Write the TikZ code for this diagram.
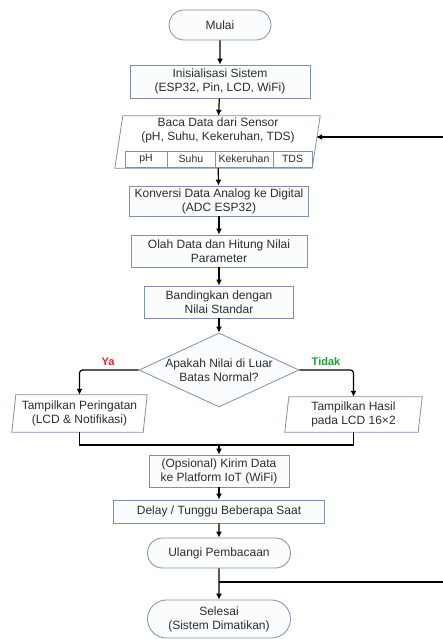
\documentclass[tikz,border=0pt]{standalone}
\usepackage{fontspec}
\setmainfont{Liberation Sans}
\usetikzlibrary{calc,shapes.geometric,shapes.misc,arrows.meta,positioning}
\definecolor{garis}{RGB}{125,145,170}
\definecolor{isi}{RGB}{251,252,254}
\definecolor{teks}{RGB}{45,45,45}
\definecolor{merah}{RGB}{215,40,40}
\definecolor{hijau}{RGB}{40,150,50}
% jajaran genjang di sekeliling node: #1 = nama node, #2 = geser
\newcommand{\jajar}[2]{%
  \draw[draw=garis,line width=0.8pt]
    ($(#1.south west)+(-#2,0)$) -- ($(#1.north west)+(#2,0)$) --
    ($(#1.north east)+(#2,0)$) -- ($(#1.south east)+(-#2,0)$) -- cycle;}

\begin{document}
\begin{tikzpicture}[x=1pt,y=-1pt,
  every node/.style={text=teks,font=\fontsize{12}{14}\selectfont,align=center},
  box/.style={rectangle,draw=garis,fill=isi,line width=0.8pt,inner sep=2pt},
  term/.style={rounded rectangle,draw=garis,fill=isi,line width=0.8pt,inner sep=2pt},
  io/.style={rectangle,inner sep=2pt},
  cek/.style={diamond,aspect=2.16,draw=garis,fill=isi,line width=0.8pt,inner sep=0pt},
  cell/.style={rectangle,draw=garis,line width=0.6pt,minimum height=16,inner sep=0pt,outer sep=0pt,
    font=\fontsize{10.5}{12}\selectfont},
  arr/.style={-{Latex[length=6pt,width=6pt]},line width=1.2pt},
  lin/.style={line width=1.2pt}]

  \useasboundingbox (0,0) rectangle (443,639);

  \node[term,minimum width=106,minimum height=30] (mulai) at (220,25) {Mulai};
  \node[box,minimum width=180,minimum height=33] (init) at (220,81.5)
    {Inisialisasi Sistem\\(ESP32, Pin, LCD, WiFi)};

  \node[io,minimum width=197,minimum height=52] (baca) at (217.5,142) {};
  \jajar{baca}{4}
  \node (bacaTeks) at (218,130) {Baca Data dari Sensor\\(pH, Suhu, Kekeruhan, TDS)};
  \node[cell,minimum width=42,anchor=west] (cPh) at (125,159) {pH};
  \node[cell,minimum width=48,right=0pt of cPh] (cSuhu) {Suhu};
  \node[cell,minimum width=58,right=0pt of cSuhu] (cKeruh) {Kekeruhan};
  \node[cell,minimum width=39,right=0pt of cKeruh] (cTds) {TDS};

  \node[box,minimum width=179,minimum height=30] (konversi) at (219,201)
    {Konversi Data Analog ke Digital\\(ADC ESP32)};
  \node[box,minimum width=176,minimum height=32] (olah) at (219,251)
    {Olah Data dan Hitung Nilai\\Parameter};
  \node[box,minimum width=149,minimum height=32] (banding) at (219,302)
    {Bandingkan dengan\\Nilai Standar};
  \node[cek,minimum width=160,minimum height=74] (batas) at (219,370)
    {Apakah Nilai di Luar\\Batas Normal?};

  \node[io,minimum width=131,minimum height=37] (peringatan) at (79.5,413.5)
    {Tampilkan Peringatan\\(LCD \& Notifikasi)};
  \jajar{peringatan}{2}
  \node[io,minimum width=133,minimum height=35] (hasil) at (353.5,414.5)
    {Tampilkan Hasil\\pada LCD 16×2};
  \jajar{hasil}{2}

  \node[box,minimum width=140,minimum height=32] (kirim) at (219,471)
    {(Opsional) Kirim Data\\ke Platform IoT (WiFi)};
  \node[box,minimum width=211,minimum height=23] (delay) at (219,511.5)
    {Delay / Tunggu Beberapa Saat};
  \node[term,minimum width=147,minimum height=30] (ulangi) at (219,553) {Ulangi Pembacaan};
  \node[term,minimum width=147,minimum height=38] (selesai) at (219,619)
    {Selesai\\(Sistem Dimatikan)};

  \node[text=merah,font=\fontsize{11}{13}\selectfont\bfseries] (ya) at (108,362) {Ya};
  \node[text=hijau,font=\fontsize{11}{13}\selectfont\bfseries] (tidak) at (326,362) {Tidak};

  \coordinate (gabung) at (219,445);
  \coordinate (cabang) at (219,582);
  \coordinate (kanan1) at (443,137);
  \coordinate (kanan2) at (443,582);

  \draw[arr] (mulai) -- (init);
  \draw[arr] (init) -- (baca);
  \draw[arr] (baca) -- (konversi);
  \draw[arr] (konversi) -- (olah);
  \draw[arr] (olah) -- (banding);
  \draw[arr] (banding) -- (batas);
  \draw[arr,rounded corners=3pt] (batas.west) -| (peringatan.north);
  \draw[arr,rounded corners=3pt] (batas.east) -| (hasil.north);
  \draw[lin] (peringatan.south) |- (gabung);
  \draw[lin] (hasil.south) |- (gabung);
  \draw[arr] (gabung) -- (kirim);
  \draw[arr] (kirim) -- (delay);
  \draw[arr] (delay) -- (ulangi);
  \draw[arr] (ulangi) -- (selesai);
  \draw[lin] (cabang) -- (kanan2);
  \draw[arr] (kanan1) -- (kanan1 -| baca.east);

\end{tikzpicture}
\end{document}
